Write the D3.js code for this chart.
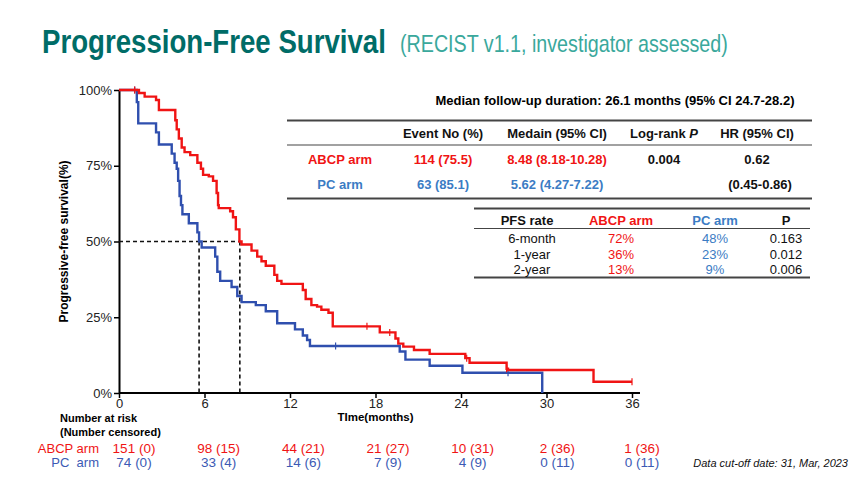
<!DOCTYPE html>
<html>
<head>
<meta charset="utf-8">
<script src="https://cdn.jsdelivr.net/npm/d3@7"></script>
<style>
  body { margin: 0; background: #fff; }
  svg { font-family: "Liberation Sans", Arial, sans-serif; }
</style>
</head>
<body>
<div id="viz"></div>
<script>
const width = 865;
const height = 484;
const plot = {left: 119, right: 632, top: 90, bottom: 393};

// x ticks (months) and y ticks (survival)
const timeTicks = [0, 6, 12, 18, 24, 30, 36];
const survTicks = [0, 0.25, 0.5, 0.75, 1];

// Kaplan-Meier steps: [month, survival after that month]
const abcpSteps = [
  [0, 1.0], [1.4, 0.99], [1.8, 0.978], [2.6, 0.967], [2.8, 0.934], [3.95, 0.90],
  [4.05, 0.87], [4.2, 0.84], [4.4, 0.81], [4.6, 0.795], [5.0, 0.785], [5.5, 0.76],
  [5.75, 0.74], [5.9, 0.72], [6.3, 0.715], [6.6, 0.70], [6.85, 0.66], [6.95, 0.62],
  [7.0, 0.61], [7.8, 0.60], [8.0, 0.58], [8.2, 0.54], [8.45, 0.50], [8.6, 0.49],
  [9.3, 0.47], [9.7, 0.45], [10.0, 0.435], [10.3, 0.42], [10.9, 0.39], [11.1, 0.37],
  [11.4, 0.36], [12.9, 0.34], [13.1, 0.31], [13.5, 0.29], [13.9, 0.285], [14.2, 0.275],
  [14.7, 0.265], [15.0, 0.22], [18.3, 0.20], [19.4, 0.18], [19.6, 0.163], [19.95, 0.153],
  [20.7, 0.142], [21.8, 0.129], [24.3, 0.115], [24.6, 0.10], [27.2, 0.08], [27.3, 0.076],
  [33.3, 0.037], [36.0, 0.037]
];
const pcSteps = [
  [0, 1.0], [1.25, 0.96], [1.35, 0.89], [2.6, 0.86], [2.8, 0.82], [3.7, 0.79],
  [3.9, 0.76], [4.05, 0.74], [4.15, 0.70], [4.25, 0.65], [4.35, 0.62], [4.45, 0.59],
  [4.9, 0.56], [5.5, 0.53], [5.62, 0.50], [5.8, 0.48], [6.75, 0.45], [6.9, 0.40],
  [7.1, 0.37], [7.9, 0.35], [8.3, 0.32], [8.6, 0.30], [9.6, 0.29], [10.3, 0.27],
  [11.1, 0.23], [12.35, 0.21], [12.9, 0.19], [13.2, 0.175], [13.4, 0.155], [19.7, 0.137],
  [20.1, 0.11], [21.8, 0.09], [24.1, 0.067], [29.7, 0.0]
];
const abcpCensor = [[1.1, 1.0], [17.4, 0.22], [19.0, 0.20], [24.4, 0.115], [27.2, 0.08], [36.0, 0.037]];
const pcCensor = [[1.1, 1.0], [15.2, 0.155], [27.3, 0.067]];
const medians = [5.62, 8.48];

// numbers at risk (number censored)
const riskArms = ['ABCP arm', 'PC  arm'];
const riskAbcp = ['151 (0)', '98 (15)', '44 (21)', '21 (27)', '10 (31)', '2 (36)', '1 (36)'];
const riskPc = ['74 (0)', '33 (4)', '14 (6)', '7 (9)', '4 (9)', '0 (11)', '0 (11)'];

// summary table
const summaryHeader = ['', 'Event No (%)', 'Medain (95% CI)', 'Log-rank P', 'HR (95% CI)'];
const summaryAbcp = ['ABCP arm', '114 (75.5)', '8.48 (8.18-10.28)', '0.004', '0.62'];
const summaryPc = ['PC arm', '63 (85.1)', '5.62 (4.27-7.22)', '', '(0.45-0.86)'];

// PFS rate table
const pfsHeader = ['PFS rate', 'ABCP arm', 'PC arm', 'P'];
const pfsRows = [
  ['6-month', '72%', '48%', '0.163'],
  ['1-year', '36%', '23%', '0.012'],
  ['2-year', '13%', '9%', '0.006']
];

const red = '#f01414';
const blueLine = '#2f4fae';
const blueText = '#3b7cc4';
const blueRisk = '#3c5ab4';
const narrow = '"Liberation Sans Narrow", "Arial Narrow", sans-serif';

const svg = d3.select('#viz')
  .append('svg')
    .attr('width', width)
    .attr('height', height);

svg.append('rect').attr('width', width).attr('height', height).attr('fill', '#fff');

// Title: squeeze horizontally to the width it has in the slide
const fitText = (sel, x0, y0, targetWidth) => {
  const w = sel.node().getComputedTextLength();
  sel.attr('transform', `translate(${x0},${y0}) scale(${targetWidth / w},1)`);
};
const title = svg.append('text')
    .style('font-family', narrow)
    .style('font-size', '33px')
    .style('font-weight', 700)
    .attr('fill', '#006c67')
    .text('Progression-Free Survival');
fitText(title, 42, 53, 344);
const subtitle = svg.append('text')
    .style('font-family', narrow)
    .style('font-size', '24px')
    .attr('fill', '#3aa89c')
    .text('(RECIST v1.1, investigator assessed)');
fitText(subtitle, 400, 52, 328);

// Scales
const x = d3.scaleLinear().domain([0, 36]).range([plot.left, plot.right]);
const y = d3.scaleLinear().domain([0, 1]).range([plot.bottom, plot.top]);

// Axes
const xAxis = svg.append('g')
    .attr('transform', `translate(0,${plot.bottom})`)
    .call(d3.axisBottom(x).tickValues(timeTicks).tickSize(5).tickSizeOuter(0));
xAxis.select('.domain').attr('d', `M${plot.left},0H${plot.right + 8}`).attr('stroke-width', 2);
xAxis.selectAll('.tick line').attr('stroke-width', 1.5);
xAxis.selectAll('.tick text')
    .attr('y', 6)
    .style('font-size', '13px')
    .style('font-family', '"Liberation Sans", Arial, sans-serif')
    .attr('fill', '#222');

const yAxis = svg.append('g')
    .attr('transform', `translate(${plot.left},0)`)
    .call(d3.axisLeft(y).tickValues(survTicks).tickFormat(d3.format('.0%')).tickSize(5).tickSizeOuter(0));
yAxis.select('.domain').attr('stroke-width', 2);
yAxis.selectAll('.tick line').attr('stroke-width', 1.5);
yAxis.selectAll('.tick text')
    .attr('x', -7)
    .style('font-size', '13px')
    .style('font-family', '"Liberation Sans", Arial, sans-serif')
    .attr('fill', '#222');

svg.append('text')
    .attr('transform', `translate(68,${(plot.top + plot.bottom) / 2}) rotate(-90)`)
    .attr('text-anchor', 'middle')
    .style('font-size', '12px')
    .style('font-weight', 700)
    .text('Progressive-free survival(%)');

svg.append('text')
    .attr('x', x(18)).attr('y', 421)
    .attr('text-anchor', 'middle')
    .style('font-size', '11.5px')
    .style('font-weight', 700)
    .text('TIme(months)');

// Median dashed guides
const guides = svg.append('g')
    .attr('stroke', '#111')
    .attr('stroke-width', 1.6)
    .attr('stroke-dasharray', '4 3');
guides.append('line')
    .attr('x1', x(0)).attr('x2', x(d3.max(medians)))
    .attr('y1', y(0.5)).attr('y2', y(0.5));
guides.selectAll('line.v')
  .data(medians)
  .join('line')
    .attr('class', 'v')
    .attr('x1', d => x(d)).attr('x2', d => x(d))
    .attr('y1', y(0.5)).attr('y2', y(0));

// Curves
const line = d3.line()
  .x(d => x(d[0]))
  .y(d => y(d[1]))
  .curve(d3.curveStepAfter);

const curves = [
  {steps: pcSteps, censor: pcCensor, color: blueLine},
  {steps: abcpSteps, censor: abcpCensor, color: red}
];
curves.forEach(c => {
  svg.append('path')
      .attr('d', line(c.steps))
      .attr('fill', 'none')
      .attr('stroke', c.color)
      .attr('stroke-width', 2.4);
  svg.append('g')
    .selectAll('line')
    .data(c.censor)
    .join('line')
      .attr('x1', d => x(d[0])).attr('x2', d => x(d[0]))
      .attr('y1', d => y(d[1]) - 3.5).attr('y2', d => y(d[1]) + 3.5)
      .attr('stroke', c.color)
      .attr('stroke-width', 1.2);
});

// Summary table
svg.append('text')
    .attr('x', 615).attr('y', 105)
    .attr('text-anchor', 'middle')
    .style('font-size', '13px')
    .style('font-weight', 700)
    .text('Median follow-up duration: 26.1 months (95% CI 24.7-28.2)');

const sumCols = [340, 443, 557, 664, 757];
const sumLines = [120.5, 145, 198.5];
svg.append('g')
  .selectAll('line')
  .data(sumLines)
  .join('line')
    .attr('x1', 287).attr('x2', 812)
    .attr('y1', d => d).attr('y2', d => d)
    .attr('stroke', '#444')
    .attr('stroke-width', (d, i) => i === 1 ? 1.2 : 1.8);

const sumRows = [
  {cells: summaryHeader, y: 137.5, colors: summaryHeader.map(() => '#111')},
  {cells: summaryAbcp, y: 164, colors: [red, red, red, '#111', '#111']},
  {cells: summaryPc, y: 189, colors: [blueText, blueText, blueText, '#111', '#111']}
];
sumRows.forEach(row => {
  const t = svg.append('g')
    .selectAll('text')
    .data(row.cells)
    .join('text')
      .attr('x', (d, i) => sumCols[i] + (row.cells === summaryPc && i === 4 ? 3 : 0))
      .attr('y', row.y)
      .attr('text-anchor', 'middle')
      .attr('fill', (d, i) => row.colors[i])
      .style('font-size', '13px')
      .style('font-weight', 700);
  t.each(function(d) {
    const el = d3.select(this);
    if (d === 'Log-rank P') {
      el.append('tspan').text('Log-rank ');
      el.append('tspan').style('font-style', 'italic').text('P');
    } else {
      el.text(d);
    }
  });
});

// PFS rate table
const pfsCols = [527, 621, 715, 786];
svg.append('g')
  .selectAll('line')
  .data([208.5, 228.5, 277.5])
  .join('line')
    .attr('x1', 474).attr('x2', 810)
    .attr('y1', d => d).attr('y2', d => d)
    .attr('stroke', '#444')
    .attr('stroke-width', (d, i) => i === 1 ? 1.2 : 1.8);

svg.append('g')
  .selectAll('text')
  .data(pfsHeader)
  .join('text')
    .attr('x', (d, i) => pfsCols[i])
    .attr('y', 224.5)
    .attr('text-anchor', 'middle')
    .attr('fill', (d, i) => i === 1 ? red : i === 2 ? blueText : '#111')
    .style('font-size', '13px')
    .style('font-weight', 700)
    .text(d => d);

pfsRows.forEach((row, r) => {
  svg.append('g')
    .selectAll('text')
    .data(row)
    .join('text')
      .attr('x', (d, i) => i === 0 ? 532 : pfsCols[i])
      .attr('y', 243 + r * 15.5)
      .attr('text-anchor', 'middle')
      .attr('fill', (d, i) => i === 1 ? red : i === 2 ? blueText : '#111')
      .style('font-size', '13px')
      .text(d => d);
});

// Number at risk table
svg.append('text')
    .attr('x', 60).attr('y', 422)
    .style('font-size', '11px')
    .style('font-weight', 700)
    .text('Number at risk');
svg.append('text')
    .attr('x', 60).attr('y', 436)
    .style('font-size', '11px')
    .style('font-weight', 700)
    .text('(Number censored)');

const riskX = d3.scalePoint().domain(timeTicks).range([134, 642]);
const riskData = [
  {arm: riskArms[0], values: riskAbcp, color: red, y: 453},
  {arm: riskArms[1], values: riskPc, color: blueRisk, y: 467}
];
riskData.forEach(r => {
  svg.append('text')
      .attr('x', 99).attr('y', r.y)
      .attr('text-anchor', 'end')
      .attr('fill', r.color)
      .style('font-family', narrow)
      .style('font-size', '13px')
      .style('white-space', 'pre')
      .attr('xml:space', 'preserve')
      .text(r.arm);
  svg.append('g')
    .selectAll('text')
    .data(r.values)
    .join('text')
      .attr('x', (d, i) => riskX(timeTicks[i]))
      .attr('y', r.y)
      .attr('text-anchor', 'middle')
      .attr('fill', r.color)
      .style('font-family', narrow)
      .style('font-size', '13.5px')
      .text(d => d);
});

svg.append('text')
    .attr('x', 848).attr('y', 467)
    .attr('text-anchor', 'end')
    .style('font-family', narrow)
    .style('font-size', '11px')
    .style('font-style', 'italic')
    .attr('fill', '#111')
    .text('Data cut-off date: 31, Mar, 2023');
</script>
</body>
</html>
